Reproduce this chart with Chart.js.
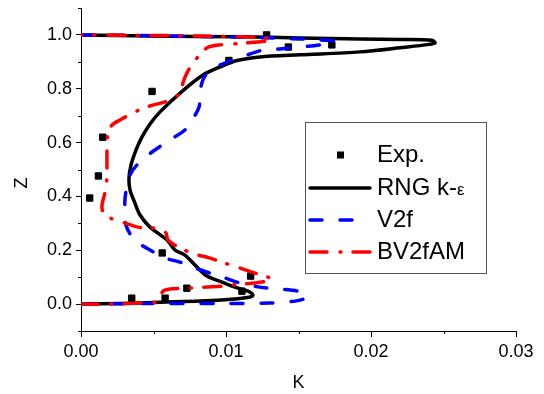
<!DOCTYPE html>
<html>
<head>
<meta charset="utf-8">
<script src="https://cdn.jsdelivr.net/npm/chart.js@4"></script>
<style>
  body { margin: 0; background: #fff; }
  canvas { display: block; }
</style>
</head>
<body>
<canvas id="chart" width="544" height="394"></canvas>
<script>
// Experimental points
const expK = [0.0128, 0.0173, 0.0143, 0.0102, 0.0049, 0.0015, 0.0012, 0.0006, 0.0056, 0.0117, 0.0073, 0.0111, 0.0058, 0.0035];
const expZ = [1.0, 0.963, 0.955, 0.905, 0.79, 0.62, 0.476, 0.394, 0.19, 0.104, 0.059, 0.048, 0.022, 0.022];

// RNG k-e profile
const rngK = [0, 0.00269, 0.00545, 0.00821, 0.01062, 0.01166, 0.01186, 0.01152, 0.01062, 0.00972, 0.00869, 0.00786, 0.00717,
  0.00648, 0.00593, 0.00476, 0.00407, 0.00372, 0.00338, 0.00331, 0.00345, 0.00379, 0.00421, 0.00476, 0.00545, 0.00683,
  0.00841, 0.00959, 0.01062, 0.01234, 0.0151, 0.01924, 0.022, 0.02372, 0.02441, 0.02421, 0.022, 0.01924, 0.0151, 0.01097, 0.00476, 0];
const rngZ = [0, 0.002, 0.007, 0.011, 0.019, 0.026, 0.033, 0.048, 0.063, 0.082, 0.104, 0.145, 0.182,
  0.201, 0.238, 0.286, 0.331, 0.375, 0.424, 0.468, 0.517, 0.572, 0.621, 0.669, 0.714, 0.784,
  0.851, 0.881, 0.903, 0.918, 0.926, 0.937, 0.952, 0.963, 0.970, 0.980, 0.983, 0.985, 0.989, 0.993, 0.996, 1.0];

// V2f profile
const v2fK = [0, 0.00476, 0.00959, 0.01303, 0.01476, 0.01552, 0.01559, 0.01497, 0.01372, 0.01234, 0.01097, 0.00993, 0.0089,
  0.00786, 0.00683, 0.00579, 0.00476, 0.00407, 0.00352, 0.0031, 0.00303, 0.00303, 0.00317, 0.00338, 0.00386, 0.0049,
  0.00614, 0.00717, 0.00766, 0.00814, 0.00821, 0.00841, 0.0089, 0.01014, 0.01131, 0.01234, 0.01372, 0.0151, 0.01648,
  0.01738, 0.01752, 0.01648, 0.0151, 0.01166, 0.00821, 0.00407, 0];
const v2fZ = [0, 0.002, 0.002, 0.004, 0.011, 0.022, 0.033, 0.048, 0.056, 0.063, 0.078, 0.097, 0.115,
  0.134, 0.156, 0.171, 0.201, 0.223, 0.249, 0.294, 0.349, 0.387, 0.442, 0.48, 0.517, 0.565,
  0.61, 0.647, 0.684, 0.732, 0.788, 0.833, 0.87, 0.9, 0.922, 0.941, 0.948, 0.955, 0.963,
  0.974, 0.978, 0.981, 0.985, 0.991, 0.994, 0.998, 1.0];

// BV2fAM profile
const bvK = [0, 0.002, 0.00407, 0.0051, 0.00545, 0.00566, 0.00614, 0.00731, 0.00855, 0.00993, 0.01097, 0.012, 0.0129,
  0.01317, 0.0129, 0.012, 0.01097, 0.00993, 0.0089, 0.00786, 0.00683, 0.006, 0.00586, 0.00545, 0.00476, 0.00393,
  0.00303, 0.002, 0.00152, 0.00145, 0.00166, 0.00179, 0.00179, 0.00179, 0.00186, 0.00214, 0.00269, 0.00372, 0.00476,
  0.00579, 0.00662, 0.00697, 0.00703, 0.00738, 0.008, 0.00869, 0.00959, 0.01097, 0.01214, 0.0129, 0.01317, 0.01269,
  0.01097, 0.00821, 0.00476, 0];
const bvZ = [0, 0, 0.004, 0.007, 0.026, 0.048, 0.056, 0.059, 0.063, 0.067, 0.074, 0.078, 0.086,
  0.089, 0.1, 0.115, 0.134, 0.152, 0.171, 0.186, 0.208, 0.238, 0.264, 0.279, 0.283, 0.286,
  0.301, 0.32, 0.342, 0.368, 0.416, 0.468, 0.517, 0.565, 0.639, 0.665, 0.684, 0.714, 0.736,
  0.751, 0.773, 0.796, 0.822, 0.866, 0.914, 0.952, 0.963, 0.968, 0.974, 0.978, 0.985, 0.989,
  0.993, 0.996, 0.998, 1.0];

const xTicks = [0, 0.01, 0.02, 0.03];
const xLabels = ['0.00', '0.01', '0.02', '0.03'];
const xMinor = [0.005, 0.015, 0.025];
const yTicks = [0, 0.2, 0.4, 0.6, 0.8, 1.0];
const yLabels = ['0.0', '0.2', '0.4', '0.6', '0.8', '1.0'];
const yMinor = [-0.1, 0.1, 0.3, 0.5, 0.7, 0.9, 1.1];

const FONT = "'Liberation Sans', Arial, sans-serif";

const pts = (xs, ys) => xs.map((x, i) => ({ x: x, y: ys[i] }));

const styles = {
  rng: { color: '#000000', dash: [] },
  v2f: { color: '#0000ff', dash: [12, 18] },
  bv: { color: '#ff0000', dash: [17, 13, 1, 12] }
};

// minor ticks, axis titles and the boxed legend
const decor = {
  id: 'decor',
  afterDraw(chart) {
    const ctx = chart.ctx;
    const xs = chart.scales.x, ys = chart.scales.y;
    ctx.save();
    ctx.strokeStyle = '#000';
    ctx.lineWidth = 1;
    xMinor.forEach(v => {
      const px = Math.round(xs.getPixelForValue(v)) + 0.5;
      ctx.beginPath(); ctx.moveTo(px, ys.bottom); ctx.lineTo(px, ys.bottom + 3); ctx.stroke();
    });
    yMinor.forEach(v => {
      const py = Math.round(ys.getPixelForValue(v)) + 0.5;
      ctx.beginPath(); ctx.moveTo(xs.left, py); ctx.lineTo(xs.left - 3, py); ctx.stroke();
    });

    // axis titles
    ctx.fillStyle = '#000';
    ctx.font = '18px ' + FONT;
    ctx.textAlign = 'center';
    ctx.textBaseline = 'middle';
    ctx.fillText('K', (xs.left + xs.right) / 2, 383);
    ctx.save();
    ctx.translate(22, 183);
    ctx.rotate(-Math.PI / 2);
    ctx.fillText('Z', 0, 0);
    ctx.restore();

    // legend
    ctx.strokeStyle = '#555';
    ctx.lineWidth = 1;
    ctx.strokeRect(305.5, 122.5, 181, 151);
    const rows = [155, 188, 220, 252];
    const x0 = 310, x1 = 370, tx = 377;
    ctx.textAlign = 'left';
    ctx.font = '24px ' + FONT;
    // Exp.
    ctx.fillStyle = '#000';
    ctx.fillRect(337, rows[0] - 3.5, 7, 7);
    ctx.fillText('Exp.', tx, rows[0]);
    [['rng', 'RNG k-'], ['v2f', 'V2f'], ['bv', 'BV2fAM']].forEach((e, i) => {
      const s = styles[e[0]];
      const y = rows[i + 1];
      ctx.strokeStyle = s.color;
      ctx.lineWidth = 3.5;
      ctx.lineCap = 'round';
      ctx.setLineDash(s.dash);
      ctx.beginPath(); ctx.moveTo(x0, y); ctx.lineTo(x1, y); ctx.stroke();
      ctx.setLineDash([]);
      ctx.fillStyle = '#000';
      ctx.font = '24px ' + FONT;
      ctx.fillText(e[1], tx, y);
      if (e[0] === 'rng') {
        const w = ctx.measureText(e[1]).width;
        ctx.font = '17px ' + FONT;
        ctx.fillText('\u03b5', tx + w, y + 2);
      }
    });
    ctx.restore();
  }
};

const lineSet = (label, data, s, order) => ({
  label: label,
  data: data,
  showLine: true,
  borderColor: s.color,
  borderWidth: 3.5,
  borderDash: s.dash,
  borderCapStyle: 'round',
  borderJoinStyle: 'round',
  pointRadius: 0,
  tension: 0.3,
  order: order
});

new Chart(document.getElementById('chart').getContext('2d'), {
  type: 'scatter',
  data: {
    datasets: [
      {
        label: 'Exp.',
        data: pts(expK, expZ),
        pointStyle: 'rect',
        pointRadius: 4.5,
        pointBackgroundColor: '#000',
        pointBorderColor: '#000',
        pointBorderWidth: 1,
        showLine: false,
        order: 4
      },
      lineSet('RNG k-\u03b5', pts(rngK, rngZ), styles.rng, 3),
      lineSet('V2f', pts(v2fK, v2fZ), styles.v2f, 2),
      lineSet('BV2fAM', pts(bvK, bvZ), styles.bv, 1)
    ]
  },
  options: {
    responsive: false,
    animation: false,
    devicePixelRatio: 1,
    layout: { padding: { left: 0, top: 8, right: 28, bottom: 0 } },
    plugins: { legend: { display: false }, tooltip: { enabled: false } },
    scales: {
      x: {
        type: 'linear',
        min: 0,
        max: 0.03,
        afterFit: s => { s.height = 63; s.paddingLeft = 0; s.paddingRight = 0; },
        afterBuildTicks: s => { s.ticks = xTicks.map(v => ({ value: v })); },
        ticks: {
          color: '#000',
          font: { family: FONT, size: 18 },
          padding: 4,
          maxRotation: 0,
          callback: (v) => xLabels[xTicks.indexOf(v)]
        },
        grid: { drawOnChartArea: false, drawTicks: true, tickLength: 6, tickColor: '#000' },
        border: { display: true, color: '#000', width: 1 }
      },
      y: {
        type: 'linear',
        min: -0.1,
        max: 1.1,
        afterFit: s => { s.width = 81; s.paddingTop = 0; s.paddingBottom = 0; },
        afterBuildTicks: s => { s.ticks = yTicks.map(v => ({ value: v })); },
        ticks: {
          color: '#000',
          font: { family: FONT, size: 18 },
          padding: 4,
          callback: (v) => yLabels[yTicks.indexOf(v)]
        },
        grid: { drawOnChartArea: false, drawTicks: true, tickLength: 5, tickColor: '#000' },
        border: { display: true, color: '#000', width: 1 }
      }
    }
  },
  plugins: [decor]
});
</script>
</body>
</html>
